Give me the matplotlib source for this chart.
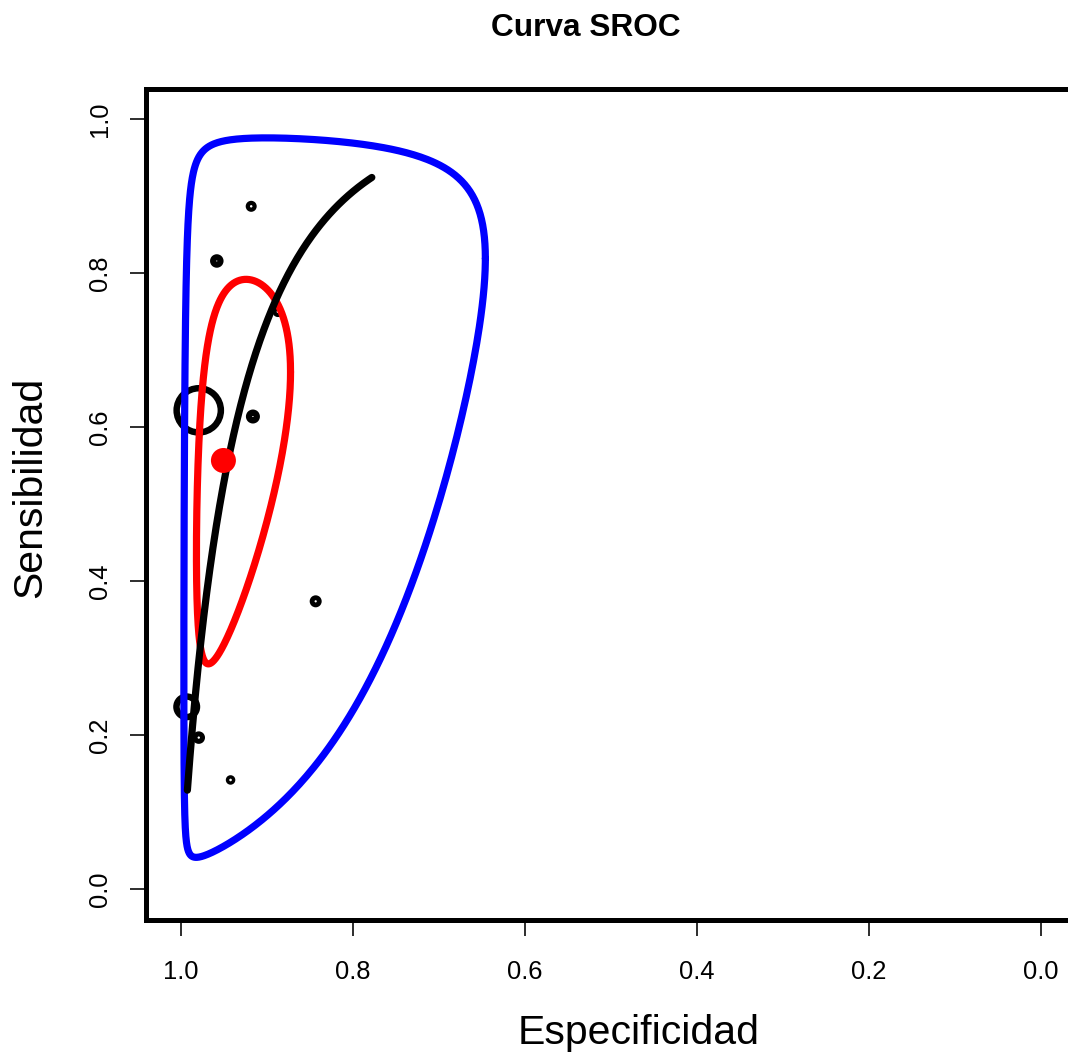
import matplotlib
matplotlib.use("Agg")
import matplotlib.pyplot as plt
import numpy as np
from statistics import NormalDist

plt.rcParams["font.family"] = ["Liberation Sans", "DejaVu Sans"]

# ---- study-level estimates -------------------------------------------
study_spec = [0.918, 0.958, 0.887, 0.979, 0.916, 0.843, 0.993, 0.979, 0.942]
study_sens = [0.887, 0.816, 0.750, 0.622, 0.614, 0.374, 0.237, 0.197, 0.142]

# ---- pooled summary point ----------------------------------------------
summary_spec = 0.9503
summary_sens = 0.5569

# ---- regions on the logit scale: centre (logit fpr, logit sens), SDs, correlation
conf_center = (-2.951, 0.228)
conf_sd = (1.03, 1.11)
conf_rho = 0.44

pred_center = (-3.10, 0.28)
pred_sd = (2.50, 3.42)
pred_rho = 0.36

# ---- SROC curve on the probit scale ------------------------------------
sroc_intercept = 2.623
sroc_slope = 1.553
sroc_spec_range = (0.9922, 0.7777)

x_ticks = [1.0, 0.8, 0.6, 0.4, 0.2, 0.0]
y_ticks = [0.0, 0.2, 0.4, 0.6, 0.8, 1.0]
x_tick_labels = ["1.0", "0.8", "0.6", "0.4", "0.2", "0.0"]
y_tick_labels = ["0.0", "0.2", "0.4", "0.6", "0.8", "1.0"]

# ---- styling -------------------------------------------------------------
W, H, DPI = 1068, 1055, 100
PT = 72.0 / DPI                      # points per pixel
marker_outer_px = [11.0, 13.5, 10.5, 50.7, 14.0, 12.0, 27.0, 12.5, 9.5]
marker_edge_px = [4.2, 6.0, 4.0, 6.5, 6.2, 4.8, 6.5, 5.0, 3.4]
curve_lw = 7.2 * PT


def logit_ellipse(center, sd, rho, n=600):
    t = np.linspace(0, 2 * np.pi, n)
    lx = center[0] + sd[0] * np.cos(t)
    ly = center[1] + sd[1] * (rho * np.cos(t) + np.sqrt(1 - rho ** 2) * np.sin(t))
    fpr = 1 / (1 + np.exp(-lx))
    sens = 1 / (1 + np.exp(-ly))
    return 1 - fpr, sens


fig = plt.figure(figsize=(W / DPI, H / DPI), dpi=DPI)
left_px, right_px, top_px, bottom_px = 146.3, 1074.9, 88.5, 920.1
ax = fig.add_axes([left_px / W, (H - bottom_px) / H,
                   (right_px - left_px) / W, (bottom_px - top_px) / H])
ax.set_xlim(1.04, -0.04)
ax.set_ylim(-0.04, 1.04)

# study points (open circles)
sizes = [((d - e) * PT) ** 2 for d, e in zip(marker_outer_px, marker_edge_px)]
ax.scatter(study_spec, study_sens, s=sizes, facecolors="none",
           edgecolors="black", linewidths=[e * PT for e in marker_edge_px],
           zorder=2)

# prediction region
px, py = logit_ellipse(pred_center, pred_sd, pred_rho)
ax.plot(px, py, color="#0000ff", lw=curve_lw, solid_capstyle="round",
        solid_joinstyle="round", zorder=3)

# confidence region
cx, cy = logit_ellipse(conf_center, conf_sd, conf_rho)
ax.plot(cx, cy, color="#ff0000", lw=curve_lw, solid_capstyle="round",
        solid_joinstyle="round", zorder=4)

# SROC curve
nd = NormalDist()
z0 = nd.inv_cdf(1 - sroc_spec_range[0])
z1 = nd.inv_cdf(1 - sroc_spec_range[1])
zf = np.linspace(z0, z1, 400)
sroc_spec = [1 - nd.cdf(v) for v in zf]
sroc_sens = [nd.cdf(sroc_intercept + sroc_slope * v) for v in zf]
ax.plot(sroc_spec, sroc_sens, color="black", lw=curve_lw,
        solid_capstyle="round", zorder=5)

# summary point
ax.scatter([summary_spec], [summary_sens], s=(25 * PT) ** 2, color="#ff0000",
           edgecolors="none", zorder=6)

# axes frame and ticks
for sp in ax.spines.values():
    sp.set_linewidth(5.0 * PT)
ax.set_xticks(x_ticks)
ax.set_xticklabels(x_tick_labels)
ax.set_yticks(y_ticks)
ax.set_yticklabels(y_tick_labels, rotation=90, va="center")
ax.tick_params(axis="both", direction="out", length=16 * PT, width=1.6 * PT,
               labelsize=18.4)
ax.tick_params(axis="x", pad=17)
ax.tick_params(axis="y", pad=13)

# titles
fig.text(586.3 / W, (H - 36) / H, "Curva SROC", ha="center", va="baseline",
         fontsize=22.8, fontweight="bold")
fig.text(638.7 / W, (H - 1044) / H, "Especificidad", ha="center",
         va="baseline", fontsize=29.5)
fig.text(30.5 / W, (H - 487) / H, "Sensibilidad", ha="center", va="center",
         rotation=90, fontsize=29.5)

fig.savefig("out.png", dpi=DPI)
